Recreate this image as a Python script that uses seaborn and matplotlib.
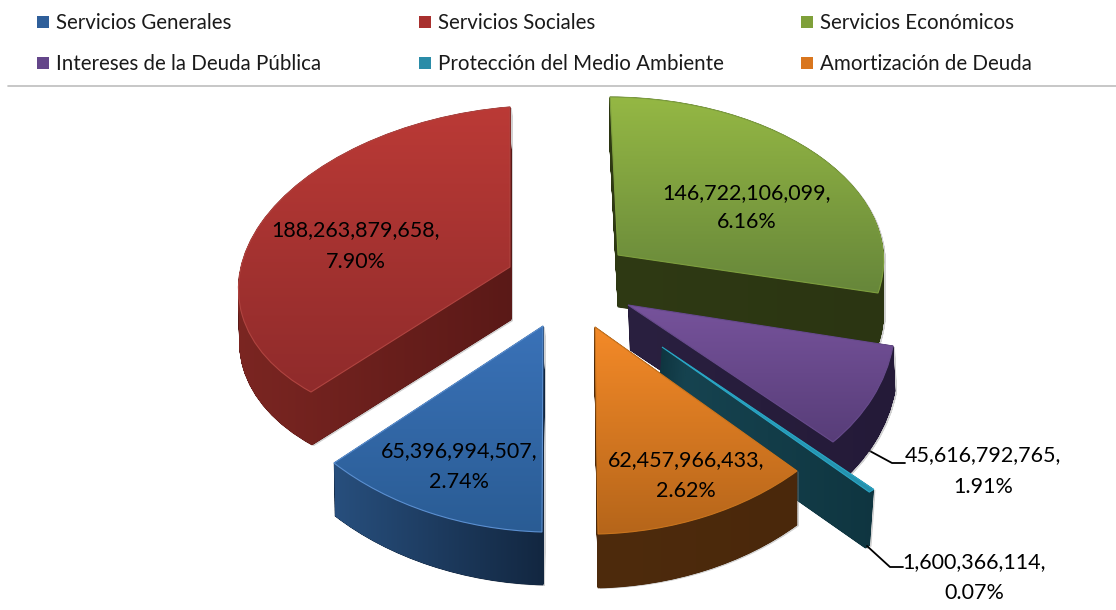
import numpy as np
import matplotlib
matplotlib.use("Agg")
import matplotlib.pyplot as plt
import seaborn as sns
from matplotlib.path import Path
from matplotlib.patches import PathPatch
from matplotlib.transforms import Affine2D

# data, legend order = clockwise order of the slices
categories = ["Servicios Generales", "Servicios Sociales", "Servicios Económicos",
              "Intereses de la Deuda Pública", "Protección del Medio Ambiente", "Amortización de Deuda"]
values = [65396994507, 188263879658, 146722106099, 45616792765, 1600366114, 62457966433]
percents = ["2.74%", "7.90%", "6.16%", "1.91%", "0.07%", "2.62%"]

# colours: top of the slice (light, dark), wall (left, right)
top_colors = [("#3a72b8", "#2a5c94"), ("#bb3a36", "#8f2b2b"), ("#95b844", "#66863a"),
              ("#77539c", "#573d78"), ("#2aa5c4", "#2590ac"), ("#f48a28", "#b5651a")]
edge_colors = ["#5b8fd0", "#b04440", "#7d9e3e", "#664a8a", "#2aa5c4", "#c8741e"]
wall_colors = [("#28507f", "#12263f"), ("#7c2622", "#5a1917"), ("#2f3a14", "#2b3512"),
               ("#2a2040", "#241a38"), ("#174552", "#0f3540"), ("#4e2b0d", "#4a280b")]
legend_colors = ["#2f5f9a", "#a8302e", "#7fa03a", "#64468a", "#2a8ca8", "#d9761e"]

# where each slice sits on the canvas, in pixels:
# apex, tip at clockwise start, tip at clockwise end, wall drop (dx, dy)
apex = [(543, 326), (510, 267), (618, 255), (628, 305), (662, 347), (595, 327)]
tip_start = [(542, 532), (311, 392), (610, 97), (893, 346), None, (797, 471)]
tip_end = [(334, 463), (510, 107), (878, 293), (833, 442), None, (598, 534)]
drop = [(1, 53), (1, 53), (0, 52), (2, 45), (-4, 56), (0, 54)]
# drawn back to front
draw_order = [2, 1, 3, 4, 5, 0]

sns.set_theme(style="white")
plt.rcParams["font.family"] = ["Lato", "DejaVu Sans"]

fig = plt.figure(figsize=(11.16, 6.10), dpi=100)
ax = fig.add_axes([0, 0, 1, 1])

# pie starts with the blue slice just past six o'clock and runs clockwise
wedges, _ = ax.pie(values, startangle=-90.9, counterclock=False, radius=1, center=(0, 0))


def unit(deg):
    return np.array([np.cos(np.radians(deg)), np.sin(np.radians(deg))])


def slice_matrix(i):
    w = wedges[i]
    a = np.array(apex[i], float)
    if tip_start[i] is None:
        # the cyan slice is too thin to solve from its tips
        M = np.array([[303.0, 0.0], [0.0, -199.0]])
    else:
        U = np.column_stack([unit(w.theta2), unit(w.theta1)])
        T = np.column_stack([np.array(tip_start[i]) - a, np.array(tip_end[i]) - a])
        M = T @ np.linalg.inv(U)
    return Affine2D(np.array([[M[0, 0], M[0, 1], a[0]], [M[1, 0], M[1, 1], a[1]], [0, 0, 1]]))


for z, i in enumerate(draw_order):
    w = wedges[i]
    tr = slice_matrix(i)
    top_path = w.get_path().transformed(tr)
    x0, y0 = top_path.vertices.min(axis=0)
    x1, y1 = top_path.vertices.max(axis=0)
    dx, dy = drop[i]
    zb = 2 + z * 5

    # wall = the top surface repeated downwards
    layers = [top_path.transformed(Affine2D().translate(dx * t, dy * t)) for t in np.linspace(0, 1, 90)]
    wall = Path.make_compound_path(*layers)

    shadow = PathPatch(wall.transformed(Affine2D().translate(2, 1)), fc="#808080", ec="none",
                       alpha=0.35, zorder=zb)
    ax.add_patch(shadow)
    wall_patch = PathPatch(wall, fc=wall_colors[i][1], ec=wall_colors[i][1], lw=0.5, zorder=zb + 1)
    ax.add_patch(wall_patch)
    wall_cmap = sns.blend_palette(wall_colors[i], as_cmap=True)
    im = ax.imshow(np.linspace(0, 1, 128).reshape(1, -1), cmap=wall_cmap, aspect="auto",
                   extent=(x0 - 6, x1 + 6, y1 + 70, y0 - 6), zorder=zb + 2)
    im.set_clip_path(wall_patch)

    # top surface with its vertical gradient
    w.set_transform(tr + ax.transData)
    w.set_facecolor("none")
    w.set_edgecolor(edge_colors[i])
    w.set_linewidth(0.8)
    w.set_zorder(zb + 4)
    top_patch = PathPatch(top_path, fc=top_colors[i][1], ec="none", zorder=zb + 3)
    ax.add_patch(top_patch)
    top_cmap = sns.blend_palette(top_colors[i], as_cmap=True)
    im2 = ax.imshow(np.linspace(0, 1, 128).reshape(-1, 1), cmap=top_cmap, aspect="auto",
                    extent=(x0 - 2, x1 + 2, y1 + 2, y0 - 2), zorder=zb + 3.5)
    im2.set_clip_path(top_patch)

# data labels: centre x, y of first and second line
label_pos = [(459, 451, 482), (356, 230, 262), (747, 193, 222), (983, 455, 487), (974, 562, 593), (686, 460, 491)]
for i, (x, y1, y2) in enumerate(label_pos):
    ax.text(x, y1, f"{values[i]:,},", ha="center", va="center", fontsize=15.5, color="black", zorder=50)
    ax.text(x, y2, percents[i], ha="center", va="center", fontsize=15.5, color="black", zorder=50)

# leader lines
ax.plot([868, 892, 905], [450, 463, 463], color="black", lw=1.3, zorder=1)
ax.plot([867, 890, 903], [546, 567, 567], color="black", lw=1.3, zorder=40)

# legend written out by hand, the columns are not evenly spaced
legend_x = [36, 418, 800]
legend_y = [23, 64]
for i, name in enumerate(categories):
    x = legend_x[i % 3]
    y = legend_y[i // 3]
    ax.scatter([x + 6.5], [y - 1], marker="s", s=85, color=legend_colors[i], linewidths=0, zorder=50)
    ax.text(x + 20, y, name, ha="left", va="center", fontsize=14.8, color="#1a1a1a", zorder=50)

ax.plot([8, 1116], [86, 86], color="#bdbdbd", lw=1.2, zorder=1)

ax.set_aspect("auto")
ax.set_xlim(0, 1116)
ax.set_ylim(610, 0)
ax.axis("off")

plt.savefig("out.png", dpi=100)
